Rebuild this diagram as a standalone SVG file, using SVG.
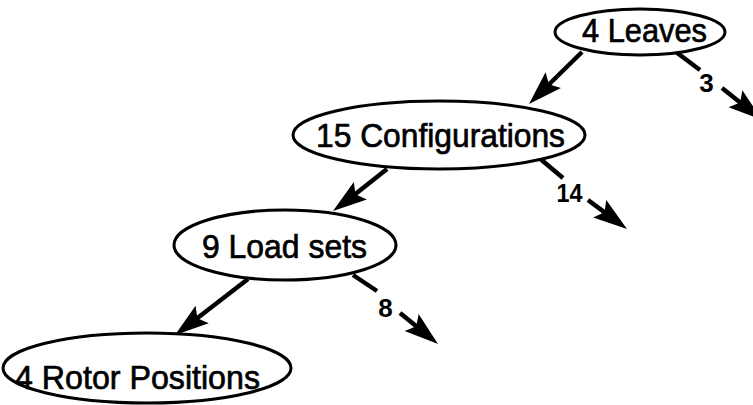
<svg xmlns="http://www.w3.org/2000/svg" xmlns:xlink="http://www.w3.org/1999/xlink" width="753" height="405" viewBox="0 0 753 405">
<style>
.node ellipse{fill:#fff;stroke:#000;stroke-width:3}
.node text{font-family:"Liberation Sans",Arial,sans-serif;font-size:34px;text-anchor:middle;fill:#000;stroke:#000;stroke-width:0.7}
.edges line{stroke:#000;stroke-width:4.5;fill:none}
.edges text{font-family:"Liberation Sans",Arial,sans-serif;font-size:26px;font-weight:bold;text-anchor:middle;fill:#000}
</style>
<defs>
<path id="head" d="M0,0 L-34,-11 L-28,0 L-34,11 Z" fill="#000"/>
</defs>
<rect width="753" height="405" fill="#fff"/>
<g class="edges">
<line x1="582" y1="52" x2="543.3" y2="90"/>
<use href="#head" xlink:href="#head" transform="translate(529,104) rotate(135.5)"/>
<line x1="387" y1="169" x2="349.1" y2="199.1"/>
<use href="#head" xlink:href="#head" transform="translate(333,211) rotate(143.5)"/>
<line x1="248" y1="279" x2="191" y2="323"/>
<use href="#head" xlink:href="#head" transform="translate(175,335) rotate(143)"/>
<line x1="676" y1="52" x2="700" y2="70"/>
<line x1="538" y1="157" x2="563" y2="178"/>
<line x1="353" y1="275" x2="377" y2="291"/>
<line x1="722" y1="88" x2="746.4" y2="107.5"/>
<use href="#head" xlink:href="#head" transform="translate(762,120) rotate(38.7)"/>
<line x1="588" y1="200" x2="611" y2="217.1"/>
<use href="#head" xlink:href="#head" transform="translate(627,229) rotate(36.6)"/>
<line x1="400" y1="313" x2="422.5" y2="331.3"/>
<use href="#head" xlink:href="#head" transform="translate(438,344) rotate(39.2)"/>
<text x="706.5" y="92">3</text>
<text x="569.5" y="202" textLength="26" lengthAdjust="spacingAndGlyphs">14</text>
<text x="385.5" y="317">8</text>
</g>
<g id="n1" class="node">
<ellipse cx="640" cy="32" rx="85" ry="23"/>
<text x="644.5" y="42" textLength="125" lengthAdjust="spacingAndGlyphs">4 Leaves</text>
</g>
<g id="n2" class="node">
<ellipse cx="439" cy="135" rx="146" ry="34"/>
<text x="440.5" y="147" textLength="249" lengthAdjust="spacingAndGlyphs">15 Configurations</text>
</g>
<g id="n3" class="node">
<ellipse cx="285" cy="245" rx="111" ry="35"/>
<text x="284.5" y="258" textLength="165" lengthAdjust="spacingAndGlyphs">9 Load sets</text>
</g>
<g id="n4" class="node">
<ellipse cx="147" cy="368" rx="144" ry="35"/>
<text x="137.5" y="389" textLength="245" lengthAdjust="spacingAndGlyphs">4 Rotor Positions</text>
</g>
</svg>
